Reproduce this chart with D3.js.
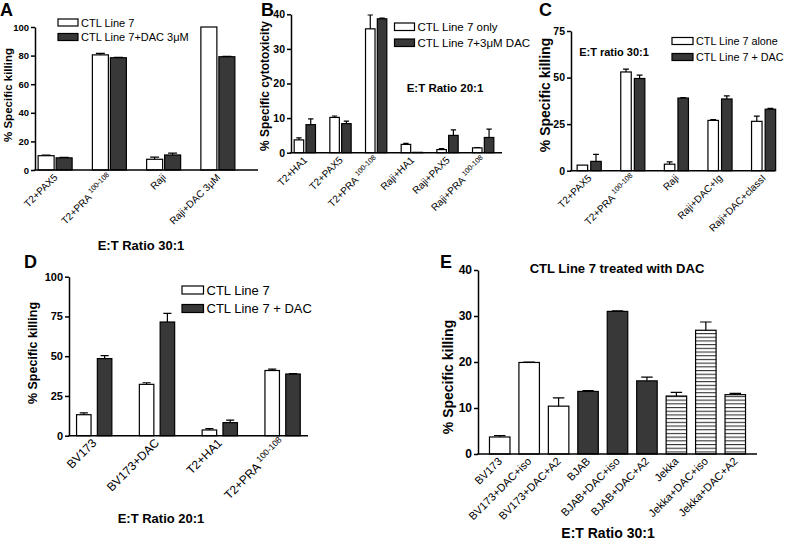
<!DOCTYPE html>
<html><head><meta charset="utf-8">
<script src="https://cdn.jsdelivr.net/npm/d3@7"></script>
<style>body{margin:0;background:#fff} svg{display:block} text{font-family:"Liberation Sans",Arial,sans-serif}</style>
</head><body><svg id="c" width="787" height="542"></svg>
<script>
// ---------- DATA ----------
// Panel A
const catsA = ["T2+PAX5", "T2+PRA^100-108", "Raji", "Raji+DAC 3μM"];
const seriesA = ["CTL Line 7", "CTL Line 7+DAC 3μM"];
const aCtl = [10, 80.5, 7.5, 100];
const aCtlErr = [0.5, 1.0, 1.5, 0];
const aDac = [8.5, 78.5, 10.5, 79.2];
const aDacErr = [0.3, 0.3, 1.3, 0.3];
const ticksA = [0, 20, 40, 60, 80, 100];
// Panel B
const catsB = ["T2+HA1", "T2+PAX5", "T2+PRA^100-108", "Raji+HA1", "Raji+PAX5", "Raji+PRA^100-108"];
const seriesB = ["CTL Line 7 only", "CTL Line 7+3μM DAC"];
const bCtl = [3.7, 10.2, 35.8, 2.4, 0.9, 1.4];
const bCtlErr = [0.6, 0.4, 4.0, 0.3, 0.3, 0.1];
const bDac = [8.1, 8.4, 38.7, 0.1, 5.0, 4.4];
const bDacErr = [1.7, 0.7, 0.2, 0, 1.6, 2.4];
const ticksB = [0, 10, 20, 30, 40];
// Panel C
const catsC = ["T2+PAX5", "T2+PRA^100-108", "Raji", "Raji+DAC+Ig", "Raji+DAC+classI"];
const seriesC = ["CTL Line 7 alone", "CTL Line 7 + DAC"];
const cCtl = [3, 53, 3.5, 27, 26.5];
const cCtlErr = [0, 1.5, 1.2, 0.5, 2.8];
const cDac = [5, 49.5, 39, 38.5, 33];
const cDacErr = [3.8, 1.8, 0.3, 1.7, 0.5];
const ticksC = [0, 25, 50, 75];
// Panel D
const catsD = ["BV173", "BV173+DAC", "T2+HA1", "T2+PRA^100-108"];
const seriesD = ["CTL Line 7", "CTL Line 7 + DAC"];
const dCtl = [13.2, 32.3, 3.6, 41];
const dCtlErr = [1.2, 1.0, 0.8, 0.9];
const dDac = [48.5, 71.5, 8.2, 38.8];
const dDacErr = [1.8, 5.4, 1.6, 0.3];
const ticksD = [0, 25, 50, 75, 100];
// Panel E
const catsE = ["BV173", "BV173+DAC+iso", "BV173+DAC+A2", "BJAB", "BJAB+DAC+iso", "BJAB+DAC+A2", "Jekka", "Jekka+DAC+iso", "Jekka+DAC+A2"];
const cellLineE = ["BV173", "BV173", "BV173", "BJAB", "BJAB", "BJAB", "Jekka", "Jekka", "Jekka"];
const eVals = [3.7, 19.9, 10.4, 13.6, 31.0, 15.9, 12.6, 26.9, 12.9];
const eErr = [0.3, 0.1, 1.8, 0.2, 0.1, 0.8, 0.8, 1.8, 0.3];
const ticksE = [0, 10, 20, 30, 40];

// ---------- DRAW ----------
const svg = d3.select("#c");
const DARK = "#383838";
const defs = svg.append("defs");
const pat = defs.append("pattern").attr("id", "stripes").attr("patternUnits", "userSpaceOnUse")
  .attr("width", 6).attr("height", 3.7);
pat.append("rect").attr("width", 6).attr("height", 3.7).attr("fill", "#fff");
pat.append("rect").attr("y", 0).attr("width", 6).attr("height", 1.1).attr("fill", "#333");
const fillE = d3.scaleOrdinal().domain(["BV173", "BJAB", "Jekka"]).range(["#fff", DARK, "url(#stripes)"]);

function label(sel, txt, size) {
  const parts = txt.split("^");
  sel.append("tspan").text(parts[0]);
  if (parts[1]) sel.append("tspan").attr("dy", -size * 0.4).attr("font-size", size * 0.72).text(" " + parts[1]);
}

function drawPanel(o) {
  const g = svg.append("g");
  const y = d3.scaleLinear().domain(o.yDomain).range([o.y0, o.yTop]);
  const x = d3.scaleBand().domain(o.cats).range(o.band);
  o.series.forEach((s, si) => {
    const cx = i => x(o.cats[i]) + x.bandwidth() / 2 + o.offsets[si];
    const idx = d3.range(s.vals.length);
    g.selectAll(null).data(idx).join("rect")
      .attr("x", i => cx(i) - o.barW / 2)
      .attr("y", i => y(s.vals[i]))
      .attr("width", o.barW)
      .attr("height", i => o.y0 - y(s.vals[i]))
      .attr("fill", i => s.fill(i))
      .attr("stroke", "#000").attr("stroke-width", 1.2);
    const eIdx = idx.filter(i => s.errs[i] > 0);
    g.selectAll(null).data(eIdx).join("path")
      .attr("d", i => {
        const top = y(s.vals[i] + s.errs[i]), c = cx(i), w = o.barW * 0.28;
        return `M${c},${y(s.vals[i])}V${top}M${c - w},${top}H${c + w}`;
      })
      .attr("fill", "none").attr("stroke", "#000").attr("stroke-width", 1.2);
  });
  // y axis
  const ax = g.append("g").attr("transform", `translate(${o.axisX},0)`)
    .call(d3.axisLeft(y).tickValues(o.ticks).tickSize(4).tickSizeOuter(0).tickPadding(2));
  ax.select(".domain").attr("stroke-width", 1.5);
  ax.selectAll(".tick line").attr("stroke-width", 1.5);
  ax.selectAll(".tick text").attr("font-size", o.tickFont).attr("font-weight", "bold")
    .attr("font-family", "Liberation Sans, Arial, sans-serif").attr("fill", "#000");
  // x axis line
  g.append("line").attr("x1", o.axisX - 0.75).attr("x2", o.xEnd).attr("y1", o.y0).attr("y2", o.y0)
    .attr("stroke", "#000").attr("stroke-width", 1.5);
  // category labels (rotated 45 degrees)
  o.cats.forEach(c => {
    const lx = x(c) + x.bandwidth() / 2 + 3, ly = o.y0 + 8;
    const t = g.append("text").attr("x", lx).attr("y", ly)
      .attr("transform", `rotate(-45 ${lx} ${ly})`)
      .attr("text-anchor", "end").attr("font-size", o.catFont).attr("fill", "#000");
    label(t, c, o.catFont);
  });
  // y title
  g.append("text").attr("transform", `translate(${o.yTitleX},${o.yTitleY}) rotate(-90)`)
    .attr("text-anchor", "middle").attr("dominant-baseline", "central")
    .attr("font-size", o.yTitleFont).attr("font-weight", "bold").text(o.yTitle);
  // panel letter
  g.append("text").attr("x", o.letterX).attr("y", o.letterY).attr("font-size", 18)
    .attr("font-weight", "bold").text(o.letter);
  // legend
  if (o.legend) {
    o.legend.names.forEach((n, i) => {
      g.append("rect").attr("x", o.legend.x).attr("y", o.legend.y[i]).attr("width", o.legend.w)
        .attr("height", o.legend.h).attr("fill", i === 0 ? "#fff" : DARK)
        .attr("stroke", "#000").attr("stroke-width", 1.2);
      g.append("text").attr("x", o.legend.x + o.legend.w + 3).attr("y", o.legend.y[i] + o.legend.h / 2)
        .attr("dominant-baseline", "central").attr("font-size", o.legend.font).text(n);
    });
  }
  (o.notes || []).forEach(nt => {
    g.append("text").attr("x", nt.x).attr("y", nt.y).attr("text-anchor", "middle")
      .attr("font-size", nt.size).attr("font-weight", "bold").text(nt.text);
  });
}

const white = () => "#fff", dark = () => DARK;

drawPanel({
  cats: catsA, series: [{ vals: aCtl, errs: aCtlErr, fill: white }, { vals: aDac, errs: aDacErr, fill: dark }],
  yDomain: [0, 100], ticks: ticksA, axisX: 35, y0: 170, yTop: 27, xEnd: 258, band: [28, 245],
  barW: 16, offsets: [-9, 9], tickFont: 9.5, catFont: 10,
  yTitle: "% Specific killing", yTitleX: 8, yTitleY: 95, yTitleFont: 11.5,
  letter: "A", letterX: 0, letterY: 16,
  legend: { x: 58, y: [19, 33.5], w: 20, h: 7, font: 11, names: seriesA },
  notes: [{ text: "E:T Ratio 30:1", x: 141, y: 250, size: 13 }]
});
drawPanel({
  cats: catsB, series: [{ vals: bCtl, errs: bCtlErr, fill: white }, { vals: bDac, errs: bDacErr, fill: dark }],
  yDomain: [0, 40], ticks: ticksB, axisX: 291, y0: 152.7, yTop: 14.3, xEnd: 502, band: [287, 501],
  barW: 9.5, offsets: [-5.9, 5.9], tickFont: 10.5, catFont: 10,
  yTitle: "% Specific cytotoxicity", yTitleX: 265, yTitleY: 86, yTitleFont: 12,
  letter: "B", letterX: 261, letterY: 16,
  legend: { x: 394.5, y: [23, 39], w: 20, h: 7.5, font: 11.5, names: seriesB },
  notes: [{ text: "E:T Ratio 20:1", x: 445, y: 92, size: 11.5 }]
});
drawPanel({
  cats: catsC, series: [{ vals: cCtl, errs: cCtlErr, fill: white }, { vals: cDac, errs: cDacErr, fill: dark }],
  yDomain: [0, 75], ticks: ticksC, axisX: 571, y0: 170.7, yTop: 31, xEnd: 775, band: [567.4, 785.4],
  barW: 10.5, offsets: [-6.8, 6.8], tickFont: 10.5, catFont: 10,
  yTitle: "% Specific killing", yTitleX: 545, yTitleY: 95, yTitleFont: 14,
  letter: "C", letterX: 539, letterY: 16,
  legend: { x: 672, y: [37.5, 53.5], w: 21, h: 7, font: 10.8, names: seriesC },
  notes: [{ text: "E:T ratio 30:1", x: 614, y: 56, size: 11 }]
});
drawPanel({
  cats: catsD, series: [{ vals: dCtl, errs: dCtlErr, fill: white }, { vals: dDac, errs: dDacErr, fill: dark }],
  yDomain: [0, 100], ticks: ticksD, axisX: 69, y0: 435.7, yTop: 276.7, xEnd: 308, band: [62.8, 314],
  barW: 14.5, offsets: [-10.4, 10.4], tickFont: 11, catFont: 12,
  yTitle: "% Specific killing", yTitleX: 33, yTitleY: 353, yTitleFont: 12.5,
  letter: "D", letterX: 24, letterY: 268,
  legend: { x: 182, y: [286, 304.5], w: 21.5, h: 8, font: 13, names: seriesD },
  notes: [{ text: "E:T Ratio 20:1", x: 161, y: 523, size: 13 }]
});
drawPanel({
  cats: catsE, series: [{ vals: eVals, errs: eErr, fill: i => fillE(cellLineE[i]) }],
  yDomain: [0, 40], ticks: ticksE, axisX: 478, y0: 454, yTop: 270, xEnd: 757, band: [485, 750],
  barW: 20.5, offsets: [0], tickFont: 12, catFont: 11,
  yTitle: "% Specific killing", yTitleX: 448, yTitleY: 377, yTitleFont: 14,
  letter: "E", letterX: 440, letterY: 268,
  notes: [{ text: "CTL Line 7 treated with DAC", x: 617, y: 273, size: 13 },
          { text: "E:T Ratio 30:1", x: 608, y: 538, size: 14 }]
});
</script></body></html>
